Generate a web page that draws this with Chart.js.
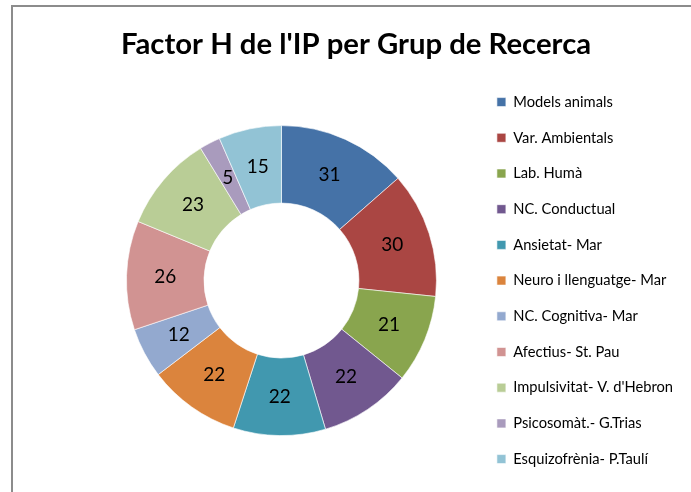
<!DOCTYPE html>
<html>
<head>
<meta charset="utf-8">
<script src="https://cdn.jsdelivr.net/npm/chart.js@4.4.1/dist/chart.umd.min.js"></script>
<style>
  html, body { margin: 0; padding: 0; background: #fff; }
  #frame {
    position: absolute; left: 11px; top: 5px; width: 800px; height: 600px;
    border-left: 2px solid #8c8c8c; border-top: 2px solid #8c8c8c;
  }
  #wrap { position: absolute; left: 0; top: 0; width: 691px; height: 492px; }
</style>
</head>
<body>
<div id="frame"></div>
<div id="wrap"><canvas id="chart"></canvas></div>
<script>
const TITLE = "Factor H de l'IP per Grup de Recerca";
const groups = [
  'Models animals',
  'Var. Ambientals',
  'Lab. Humà',
  'NC. Conductual',
  'Ansietat- Mar',
  'Neuro i llenguatge- Mar',
  'NC. Cognitiva- Mar',
  'Afectius- St. Pau',
  "Impulsivitat- V. d'Hebron",
  'Psicosomàt.- G.Trias',
  'Esquizofrènia- P.Taulí',
];
const hIndex = [31, 30, 21, 22, 22, 22, 12, 26, 23, 5, 15];
const colors = [
  '#4572A7', '#AA4643', '#89A54E', '#71588F', '#4198AF', '#DB843D',
  '#93A9CF', '#D19392', '#B9CD96', '#A99BBD', '#92C3D5',
];

const FONT = 'Lato, "Open Sans", sans-serif';

// value labels in the middle of each ring segment
const valueLabels = {
  id: 'valueLabels',
  afterDatasetsDraw(chart) {
    const ctx = chart.ctx;
    const meta = chart.getDatasetMeta(0);
    ctx.save();
    ctx.font = '19px ' + FONT;
    ctx.fillStyle = '#000';
    ctx.textAlign = 'center';
    ctx.textBaseline = 'middle';
    meta.data.forEach((arc, i) => {
      const pos = arc.tooltipPosition();
      ctx.fillText(String(hIndex[i]), pos.x, pos.y);
    });
    ctx.restore();
  },
};

new Chart(document.getElementById('chart'), {
  type: 'doughnut',
  data: {
    labels: groups,
    datasets: [{
      data: hIndex,
      backgroundColor: colors,
      borderColor: 'rgba(255,255,255,0.6)',
      borderWidth: 1,
      radius: 155,
      cutout: '50%',
    }],
  },
  options: {
    responsive: true,
    maintainAspectRatio: false,
    animation: false,
    layout: { padding: { left: 29, right: 8, top: 0, bottom: 0 } },
    plugins: {
      title: {
        display: true,
        text: TITLE,
        color: '#000',
        font: { family: FONT, size: 29.3, weight: 'bold' },
        padding: { top: 27, bottom: 7 },
      },
      // empty left box, only keeps the ring off-centre like the original
      subtitle: {
        display: true,
        position: 'left',
        text: '',
        font: { size: 10 },
        padding: { top: 0, bottom: 46 },
      },
      legend: {
        position: 'right',
        fullSize: false,
        maxWidth: 300,
        labels: {
          boxWidth: 9,
          boxHeight: 9,
          padding: 21,
          color: '#000',
          font: { family: FONT, size: 14.7 },
        },
      },
      tooltip: { enabled: false },
    },
  },
  plugins: [valueLabels],
});
</script>
</body>
</html>
